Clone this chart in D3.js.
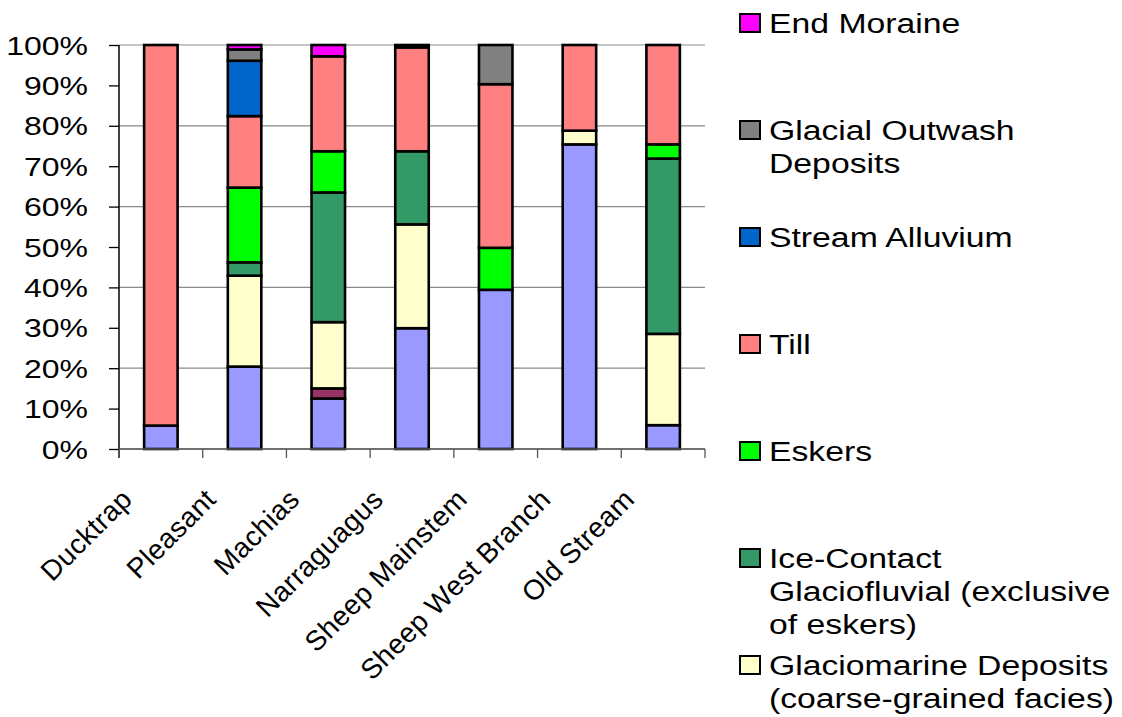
<!DOCTYPE html>
<html>
<head>
<meta charset="utf-8">
<script src="https://cdn.jsdelivr.net/npm/d3@7"></script>
<style>
  html, body { margin: 0; padding: 0; background: #fff; }
  svg { display: block; font-family: "Liberation Sans", Arial, sans-serif; }
</style>
</head>
<body>
<svg id="chart" width="1122" height="717"></svg>
<script>
// Rivers (x categories)
const rivers = ["Ducktrap", "Pleasant", "Machias", "Narraguagus", "Sheep Mainstem", "Sheep West Branch", "Old Stream"];

// Surficial geology classes, stacked bottom to top
const units = [
  "Glaciomarine Deposits (fine-grained facies)",
  "Wetland Deposits",
  "Glaciomarine Deposits (coarse-grained facies)",
  "Ice-Contact Glaciofluvial (exclusive of eskers)",
  "Eskers",
  "Till",
  "Stream Alluvium",
  "Glacial Outwash Deposits",
  "End Moraine"
];
const unitColors = ["#9999FF", "#993366", "#FFFFCC", "#339966", "#00FF00", "#FF8080", "#0066CC", "#808080", "#FF00FF"];

// Percent of each river basin, one array per class (same order as rivers)
const fineGlaciomarine   = [5.8, 20.4, 12.5, 29.9, 39.4, 75.4, 5.9];
const wetland            = [0,   0,    2.5,  0,    0,    0,    0];
const coarseGlaciomarine = [0,   22.5, 16.4, 25.7, 0,    3.4,  22.6];
const iceContact         = [0,   3.3,  32.1, 18.1, 0,    0,    43.4];
const eskers             = [0,   18.5, 10.2, 0,    10.4, 0,    3.5];
const till               = [94.2,17.7, 23.5, 25.7, 40.5, 21.2, 24.6];
const streamAlluvium     = [0,   13.7, 0,    0,    0,    0,    0];
const outwash            = [0,   2.8,  0,    0.6,  9.7,  0,    0];
const endMoraine         = [0,   1.1,  2.8,  0,    0,    0,    0];

const seriesValues = [fineGlaciomarine, wetland, coarseGlaciomarine, iceContact, eskers, till, streamAlluvium, outwash, endMoraine];

// Legend text, wrapped the way it is laid out
const legendLines = {
  "Glaciomarine Deposits (fine-grained facies)": ["Glaciomarine Deposits", "(fine-grained facies)"],
  "Wetland Deposits": ["Wetland Deposits"],
  "Glaciomarine Deposits (coarse-grained facies)": ["Glaciomarine Deposits", "(coarse-grained facies)"],
  "Ice-Contact Glaciofluvial (exclusive of eskers)": ["Ice-Contact", "Glaciofluvial (exclusive", "of eskers)"],
  "Eskers": ["Eskers"],
  "Till": ["Till"],
  "Stream Alluvium": ["Stream Alluvium"],
  "Glacial Outwash Deposits": ["Glacial Outwash", "Deposits"],
  "End Moraine": ["End Moraine"]
};

const yTicks = [0, 10, 20, 30, 40, 50, 60, 70, 80, 90, 100];
const gridTicks = [0, 20, 40, 60, 80, 100];

// ---- table for d3.stack
const rows = rivers.map((r, i) => {
  const row = { river: r };
  units.forEach((u, k) => { row[u] = seriesValues[k][i]; });
  return row;
});
const stacked = d3.stack().keys(units)(rows);

const svg = d3.select("#chart");
const plot = { left: 119, right: 705, top: 45, bottom: 449 };

const x = d3.scaleBand().domain(rivers).range([plot.left, plot.right]).paddingInner(0.6).paddingOuter(0.3);
const y = d3.scaleLinear().domain([0, 100]).range([plot.bottom, plot.top]);
const color = d3.scaleOrdinal().domain(units).range(unitColors);

// gridlines
svg.append("g").selectAll("line").data(gridTicks).join("line")
  .attr("x1", plot.left).attr("x2", plot.right)
  .attr("y1", d => y(d)).attr("y2", d => y(d))
  .attr("stroke", "#8a8a8a").attr("stroke-width", 1.2);

// bars
svg.append("g").selectAll("g").data(stacked).join("g")
  .attr("fill", d => color(d.key))
  .selectAll("rect").data(d => d.filter(s => s[1] - s[0] > 0)).join("rect")
  .attr("x", d => x(d.data.river))
  .attr("width", x.bandwidth())
  .attr("y", d => y(d[1]))
  .attr("height", d => y(d[0]) - y(d[1]))
  .attr("stroke", "#000").attr("stroke-width", 2.6);

// y axis
const yAxis = svg.append("g").attr("transform", `translate(${plot.left},0)`)
  .call(d3.axisLeft(y).tickValues(yTicks).tickSize(10).tickFormat(d => d + "%"));
yAxis.select(".domain").attr("stroke", "#000").attr("stroke-width", 1.5)
  .attr("d", `M0,${plot.top}V${plot.bottom + 9}`);
yAxis.selectAll(".tick line").attr("stroke", "#000").attr("stroke-width", 1.3);
yAxis.selectAll(".tick text")
  .attr("x", null).attr("dy", null)
  .attr("font-size", 25).attr("fill", "#000")
  .attr("text-anchor", "end")
  .attr("transform", "translate(-31,9) scale(1.28,1)");

// x axis: ticks sit between categories
const bounds = rivers.map((r, i) => x(r) - x.step() * x.paddingInner() / 2).concat([plot.right]);
const xAxis = svg.append("g");
xAxis.append("line")
  .attr("x1", plot.left).attr("x2", plot.right)
  .attr("y1", plot.bottom).attr("y2", plot.bottom)
  .attr("stroke", "#555").attr("stroke-width", 1.3);
xAxis.selectAll("line.tick").data(bounds).join("line").attr("class", "tick")
  .attr("x1", d => d).attr("x2", d => d)
  .attr("y1", plot.bottom).attr("y2", plot.bottom + 9)
  .attr("stroke", "#555").attr("stroke-width", 1.3);
xAxis.selectAll("text").data(rivers).join("text")
  .attr("transform", d => `translate(${x(d) + x.bandwidth() / 2 - 27},${plot.bottom + 52}) rotate(-45)`)
  .attr("text-anchor", "end")
  .attr("font-size", 28)
  .attr("letter-spacing", 0.4)
  .attr("fill", "#000")
  .text(d => d);

// legend, last series at the top
const legend = svg.append("g");
const legendOrder = units.slice().reverse();
const item = legend.selectAll("g").data(legendOrder).join("g")
  .attr("transform", (d, i) => `translate(739,${33 + i * 107})`);
item.append("rect")
  .attr("x", 1).attr("y", -19).attr("width", 20).attr("height", 18)
  .attr("fill", d => color(d)).attr("stroke", "#000").attr("stroke-width", 2);
item.append("text")
  .attr("transform", "translate(30,0) scale(1.25,1)")
  .attr("font-size", 27).attr("fill", "#000")
  .selectAll("tspan").data(d => legendLines[d]).join("tspan")
  .attr("x", 0).attr("y", (d, i) => i * 33)
  .text(d => d);
</script>
</body>
</html>
